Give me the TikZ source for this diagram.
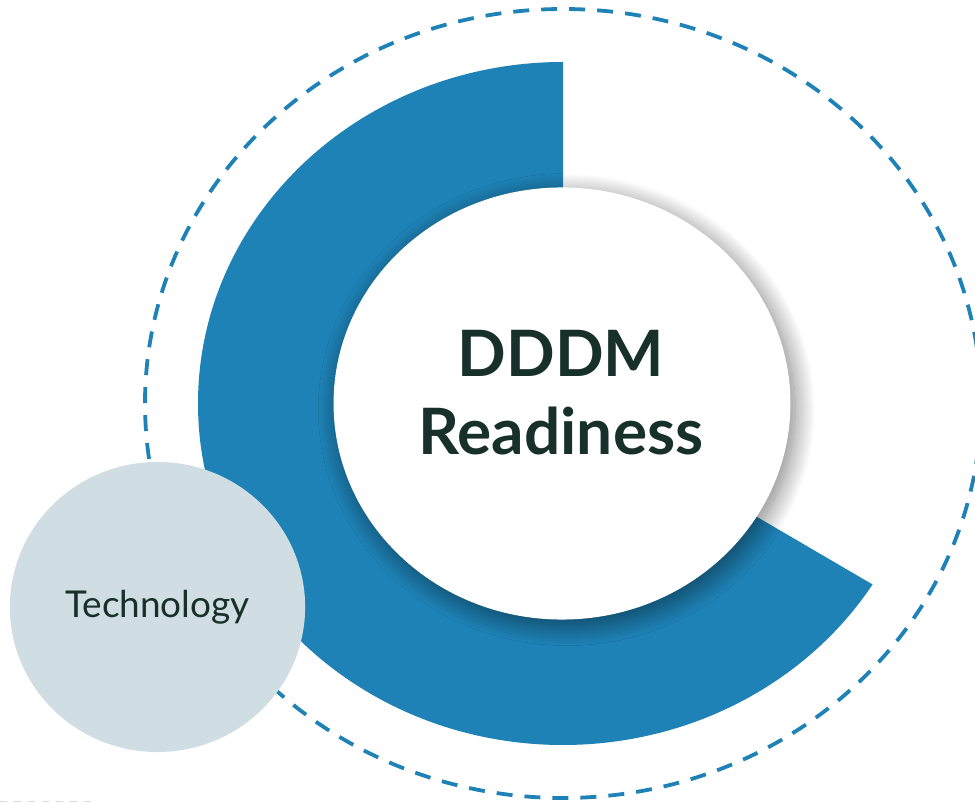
\documentclass[tikz,border=0pt]{standalone}
\usepackage{fontspec}
\setmainfont{Lato}
\usetikzlibrary{positioning}
\usetikzlibrary{shapes.geometric}
\usetikzlibrary{shadows.blur}
\definecolor{ringblue}{HTML}{1E82B6}
\definecolor{techgrey}{HTML}{D0DEE4}
\definecolor{inkgreen}{HTML}{173029}

\begin{document}
\begin{tikzpicture}
	[x=0.025cm,y=0.025cm,
	orbit/.style={draw=ringblue,line width=2.7pt,dash pattern=on 0.4cm off 0.3cm},
	hub/.style={ellipse,fill=white,inner sep=0pt,minimum width=11.42cm,minimum height=10.8cm,blur shadow={shadow xshift=0.12cm,shadow yshift=-0.15cm,shadow blur radius=0.5cm,shadow blur steps=25,shadow opacity=50}},
	pillar/.style={ellipse,fill=techgrey,inner sep=0pt,minimum width=7.38cm,minimum height=7.25cm,text=inkgreen,font=\fontsize{26.3}{32}\selectfont},
	title/.style={text=inkgreen,font=\fontsize{45.5}{55}\selectfont\bfseries,inner sep=0pt}]
	\useasboundingbox (0,0) rectangle (975,803);
	\coordinate (centre) at (563,399.5);
	\draw[orbit] (centre) ellipse [x radius=418,y radius=394.5];
	\fill[ringblue] (centre) -- ++(0,341.5) arc[start angle=90,end angle=328,x radius=365,y radius=341.5] -- cycle;
	\node[hub] (core) at (562,399.5) {};
	\node[title,anchor=base] (dddm) at (561,426.3) {DDDM};
	\node[title,anchor=base] (ready) at (561,348) {Readiness};
	\node[pillar] (tech) at (157.5,196) {Technology};
	% cut-off dashes, bottom left
	\draw[techgrey,line width=1.4pt,dash pattern=on 0.17cm off 0.18cm] (0,1.5) -- (95,1.5);
\end{tikzpicture}
\end{document}
